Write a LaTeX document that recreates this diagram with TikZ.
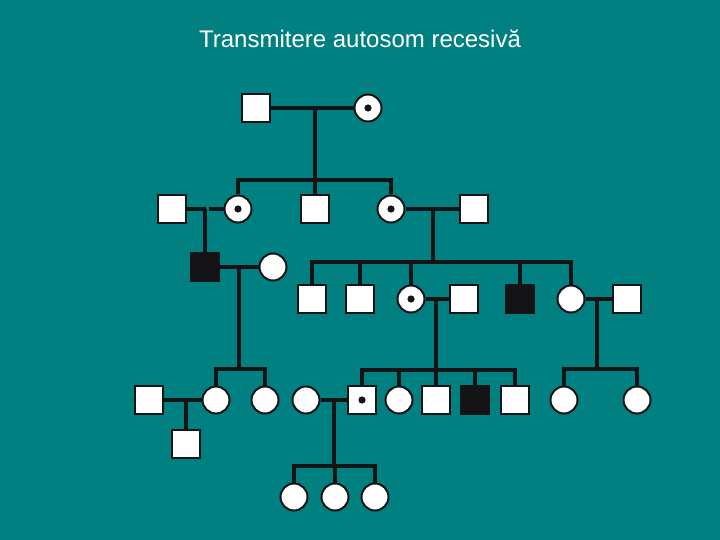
\documentclass[tikz,border=0pt]{standalone}
\usepackage{fontspec}
\setmainfont{Liberation Sans}
\definecolor{bgteal}{RGB}{0,128,128}
\definecolor{ink}{RGB}{20,20,22}
\begin{document}
\begin{tikzpicture}[x=1bp,y=-1bp,
  person/.style={draw=ink,line width=2bp,fill=white,minimum size=28bp,inner sep=0pt},
  male/.style={person,rectangle},
  female/.style={person,circle,minimum size=27bp},
  affected/.style={fill=ink},
  carrier/.style={path picture={\fill[ink] (path picture bounding box.center) circle[radius=3.6bp];}},
  link/.style={draw=ink,line width=4bp},
]
\fill[bgteal] (0,0) rectangle (720,540);
\useasboundingbox (0,0) rectangle (720,540);
\node[anchor=base,text=white,font=\fontsize{24bp}{28bp}\selectfont] (title) at (360,48) {Transmitere autosom recesivă};

% generation I
\node[male] (I1) at (256,108) {};
\node[female,carrier] (I2) at (368,108) {};
% generation II
\node[male] (II1) at (172,209) {};
\node[female,carrier] (II2) at (238,209) {};
\node[male] (II3) at (315,209) {};
\node[female,carrier] (II4) at (391,209) {};
\node[male] (II5) at (474,209) {};
% generation III
\node[male,affected] (III1) at (205,267) {};
\node[female] (III2) at (273,267) {};
\node[male] (III3) at (312,299) {};
\node[male] (III4) at (360,299) {};
\node[female,carrier] (III5) at (411,299) {};
\node[male] (III6) at (464,299) {};
\node[male,affected] (III7) at (520,299) {};
\node[female] (III8) at (571,299) {};
\node[male] (III9) at (627,299) {};
% generation IV
\node[male] (IV1) at (149,400) {};
\node[female] (IV2) at (216,400) {};
\node[female] (IV3) at (265,400) {};
\node[female] (IV4) at (306,400) {};
\node[male,carrier] (IV5) at (362,400) {};
\node[female] (IV6) at (399,400) {};
\node[male] (IV7) at (436,400) {};
\node[male,affected] (IV8) at (475,400) {};
\node[male] (IV9) at (515,400) {};
\node[female] (IV10) at (564,400) {};
\node[female] (IV11) at (637,400) {};
% generation V
\node[male] (V1) at (186,444) {};
\node[female] (V2) at (294,497) {};
\node[female] (V3) at (335,497) {};
\node[female] (V4) at (375,497) {};

% sibship lines
\coordinate (s1) at (315,180);
\coordinate (s2) at (433,262);
\coordinate (s3) at (239,369);
\coordinate (s4) at (436,370);
\coordinate (s5) at (597,369);
\coordinate (s6) at (334,466);
% gap in the II1--II2 marriage line
\coordinate (g1) at (206,209);
\coordinate (g2) at (208.5,209);

% family I
\draw[link] (I1) -- (I2);
\draw[link] (II3.north) -- (II3.north |- I1);
\draw[link] (II2.north) |- (s1) -| (II4.north);
% family II1 x II2
\draw[link] (II1) -- (g1);
\draw[link] (g2) -- (II2);
\draw[link] (III1.north) -- (III1.north |- II1);
% family II4 x II5
\draw[link] (II4) -- (II5);
\draw[link] (s2) -- (s2 |- II4);
\draw[link] (III3.north) |- (s2) -| (III8.north);
\foreach \c in {III4,III5,III7} \draw[link] (\c.north) -- (\c.north |- s2);
% family III1 x III2
\draw[link] (III1) -- (III2);
\draw[link] (s3) -- (s3 |- III1);
\draw[link] (IV2.north) |- (s3) -| (IV3.north);
% family III5 x III6
\draw[link] (III5) -- (III6);
\draw[link] (IV7.north) -- (IV7.north |- III5);
\draw[link] (IV5.north) |- (s4) -| (IV9.north);
\foreach \c in {IV6,IV8} \draw[link] (\c.north) -- (\c.north |- s4);
% family III8 x III9
\draw[link] (III8) -- (III9);
\draw[link] (s5) -- (s5 |- III8);
\draw[link] (IV10.north) |- (s5) -| (IV11.north);
% family IV1 x IV2
\draw[link] (IV1) -- (IV2);
\draw[link] (V1.north) -- (V1.north |- IV1);
% family IV4 x IV5
\draw[link] (IV4) -- (IV5);
\draw[link] (s6) -- (s6 |- IV4);
\draw[link] (V2.north) |- (s6) -| (V4.north);
\draw[link] (V3.north) -- (V3.north |- s6);
\end{tikzpicture}
\end{document}
